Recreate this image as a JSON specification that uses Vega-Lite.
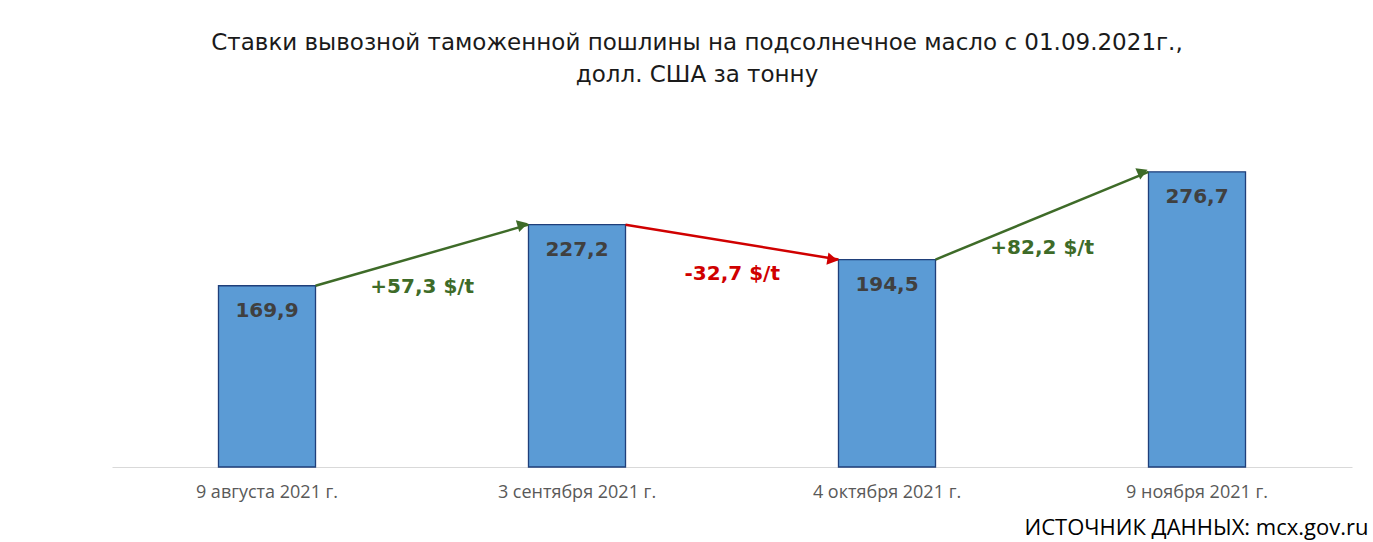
{
  "$schema": "https://vega.github.io/schema/vega-lite/v6.json",
  "autosize": "none",
  "width": 1240,
  "height": 320,
  "padding": {"left": 112, "top": 147, "right": 21, "bottom": 75},
  "background": "white",
  "title": {
    "text": ["Ставки вывозной таможенной пошлины на подсолнечное масло с 01.09.2021г.,", "долл. США за тонну"],
    "anchor": "middle",
    "dx": -35,
    "offset": 60,
    "font": "DejaVu Sans",
    "fontSize": 23,
    "fontWeight": "normal",
    "color": "#1a1a1a",
    "lineHeight": 32
  },
  "datasets": {
    "rates": [
      {"date": "9 августа 2021 г.", "value": 169.9},
      {"date": "3 сентября 2021 г.", "value": 227.2},
      {"date": "4 октября 2021 г.", "value": 194.5},
      {"date": "9 ноября 2021 г.", "value": 276.7}
    ],
    "arrows": [
      {"date": "9 августа 2021 г.", "to": "3 сентября 2021 г.", "v1": 169.9, "v2": 227.2, "label": "+57,3 $/t", "dir": "up"},
      {"date": "3 сентября 2021 г.", "to": "4 октября 2021 г.", "v1": 227.2, "v2": 194.5, "label": "-32,7 $/t", "dir": "down"},
      {"date": "4 октября 2021 г.", "to": "9 ноября 2021 г.", "v1": 194.5, "v2": 276.7, "label": "+82,2 $/t", "dir": "up"}
    ]
  },
  "config": {
    "locale": {"number": {"decimal": ",", "thousands": " ", "grouping": [3], "currency": ["", " $"]}},
    "view": {"stroke": null},
    "axisX": {
      "domainColor": "#d9d9d9",
      "domainWidth": 1,
      "ticks": false,
      "grid": false,
      "labelAngle": 0,
      "labelFont": "Open Sans",
      "labelFontSize": 18,
      "labelColor": "#595959",
      "labelPadding": 16,
      "titleFont": "Open Sans",
      "titleFontSize": 22,
      "titleFontWeight": "normal",
      "titleColor": "#000000",
      "titleX": 1256,
      "titleY": 60,
      "titleAlign": "right",
      "titleAnchor": null,
      "titleBaseline": "middle"
    }
  },
  "layer": [
    {
      "data": {"name": "rates"},
      "mark": {"type": "bar", "color": "#5b9bd5", "stroke": "#1f3f7a", "strokeWidth": 1.3},
      "encoding": {
        "x": {"field": "date", "type": "nominal", "title": "ИСТОЧНИК ДАННЫХ: mcx.gov.ru",
              "scale": {"domain": ["9 августа 2021 г.", "3 сентября 2021 г.", "4 октября 2021 г.", "9 ноября 2021 г."], "paddingInner": 0.687, "paddingOuter": 0.3435}},
        "y": {"field": "value", "type": "quantitative", "scale": {"domain": [0, 300]}, "axis": null}
      }
    },
    {
      "data": {"name": "rates"},
      "mark": {"type": "text", "font": "DejaVu Sans", "fontWeight": "bold", "fontSize": 20, "color": "#404040", "baseline": "middle", "dy": 25},
      "encoding": {
        "x": {"field": "date", "type": "nominal", "title": "ИСТОЧНИК ДАННЫХ: mcx.gov.ru"},
        "y": {"field": "value", "type": "quantitative", "axis": null},
        "text": {"field": "value", "type": "quantitative", "format": ".1f"}
      }
    },
    {
      "data": {"name": "arrows"},
      "mark": {"type": "rule", "strokeWidth": 2.5},
      "encoding": {
        "x": {"field": "date", "type": "nominal", "bandPosition": 1, "title": "ИСТОЧНИК ДАННЫХ: mcx.gov.ru"},
        "x2": {"field": "to", "bandPosition": 0},
        "y": {"field": "v1", "type": "quantitative", "axis": null},
        "y2": {"field": "v2"},
        "color": {"field": "dir", "type": "nominal", "scale": {"domain": ["up", "down"], "range": ["#3e6b28", "#d00000"]}, "legend": null}
      }
    },
    {
      "data": {"name": "arrows"},
      "transform": [{"filter": "datum.label === '+57,3 $/t'"}],
      "mark": {"type": "point", "shape": "triangle-right", "filled": true, "size": 150, "opacity": 1, "angle": 344},
      "encoding": {
        "x": {"field": "to", "type": "nominal", "bandPosition": -0.06, "title": "ИСТОЧНИК ДАННЫХ: mcx.gov.ru"},
        "y": {"field": "v2", "type": "quantitative", "axis": null},
        "color": {"field": "dir", "type": "nominal", "legend": null}
      }
    },
    {
      "data": {"name": "arrows"},
      "transform": [{"filter": "datum.label === '-32,7 $/t'"}],
      "mark": {"type": "point", "shape": "triangle-right", "filled": true, "size": 150, "opacity": 1, "angle": 9.5},
      "encoding": {
        "x": {"field": "to", "type": "nominal", "bandPosition": -0.06, "title": "ИСТОЧНИК ДАННЫХ: mcx.gov.ru"},
        "y": {"field": "v2", "type": "quantitative", "axis": null},
        "color": {"field": "dir", "type": "nominal", "legend": null}
      }
    },
    {
      "data": {"name": "arrows"},
      "transform": [{"filter": "datum.label === '+82,2 $/t'"}],
      "mark": {"type": "point", "shape": "triangle-right", "filled": true, "size": 150, "opacity": 1, "angle": 336.5},
      "encoding": {
        "x": {"field": "to", "type": "nominal", "bandPosition": -0.06, "title": "ИСТОЧНИК ДАННЫХ: mcx.gov.ru"},
        "y": {"field": "v2", "type": "quantitative", "axis": null},
        "color": {"field": "dir", "type": "nominal", "legend": null}
      }
    },
    {
      "data": {"name": "arrows"},
      "transform": [{"fold": ["v1", "v2"], "as": ["end", "v"]}],
      "mark": {"type": "text", "font": "DejaVu Sans", "fontWeight": "bold", "fontSize": 20, "baseline": "middle", "dy": 32},
      "encoding": {
        "x": {"field": "date", "type": "nominal", "bandPosition": 2.1, "title": "ИСТОЧНИК ДАННЫХ: mcx.gov.ru"},
        "y": {"aggregate": "mean", "field": "v", "type": "quantitative", "axis": null},
        "text": {"field": "label", "type": "nominal"},
        "color": {"field": "dir", "type": "nominal", "legend": null}
      }
    }
  ]
}
